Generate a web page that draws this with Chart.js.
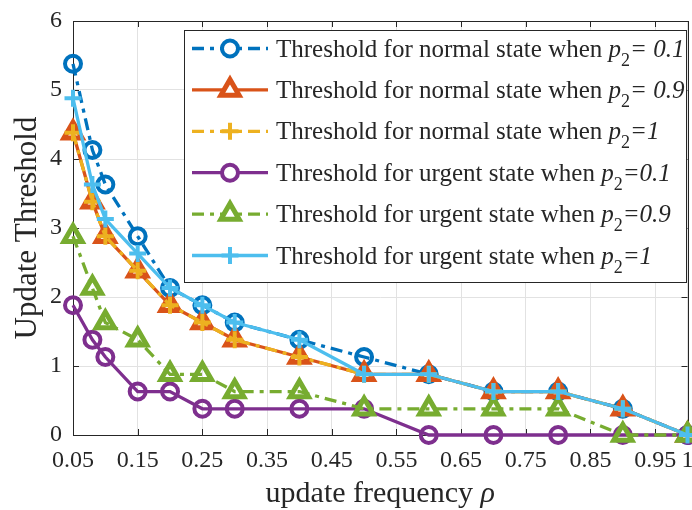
<!DOCTYPE html>
<html>
<head>
<meta charset="utf-8">
<script src="https://cdn.jsdelivr.net/npm/chart.js@4.4.1/dist/chart.umd.min.js"></script>
<style>
  html, body { margin: 0; padding: 0; background: #fff; }
  #caixa { width: 692px; height: 510px; }
</style>
</head>
<body>
<div id="caixa"><canvas id="grafico"></canvas></div>
<script>
// valores
const rho = [0.05, 0.08, 0.1, 0.15, 0.2, 0.25, 0.3, 0.4, 0.5, 0.6, 0.7, 0.8, 0.9, 1];
const normal01 = [5.38, 4.13, 3.63, 2.88, 2.13, 1.88, 1.63, 1.38, 1.13, 0.88, 0.63, 0.63, 0.38, 0];
const normal09 = [4.38, 3.38, 2.88, 2.38, 1.88, 1.63, 1.38, 1.13, 0.88, 0.88, 0.63, 0.63, 0.38, 0];
const normal1  = [4.38, 3.38, 2.88, 2.38, 1.88, 1.63, 1.38, 1.13, 0.88, 0.88, 0.63, 0.63, 0.38, 0];
const urgente01 = [1.88, 1.38, 1.13, 0.63, 0.63, 0.38, 0.38, 0.38, 0.38, 0, 0, 0, 0, 0];
const urgente09 = [2.88, 2.13, 1.63, 1.38, 0.88, 0.88, 0.63, 0.63, 0.38, 0.38, 0.38, 0.38, 0, 0];
const urgente1  = [4.88, 3.63, 3.13, 2.63, 2.13, 1.88, 1.63, 1.38, 0.88, 0.88, 0.63, 0.63, 0.38, 0];
const xTicks = [0.05, 0.15, 0.25, 0.35, 0.45, 0.55, 0.65, 0.75, 0.85, 0.95, 1];
const yTicks = [0, 1, 2, 3, 4, 5, 6];
const legendas = [
  ['Threshold for normal state when ', '= 0.1'],
  ['Threshold for normal state when ', '= 0.9'],
  ['Threshold for normal state when ', '=1'],
  ['Threshold for urgent state when ', '=0.1'],
  ['Threshold for urgent state when ', '=0.9'],
  ['Threshold for urgent state when ', '=1']
];

const FONTE = "'Liberation Serif', 'Times New Roman', serif";
const TEXTO = '#262626';
const TRACO = [12, 6, 4, 6];

function serie(valores) {
  return valores.map((v, i) => ({ x: rho[i], y: v }));
}

function criarSerie(label, valores, cor, estilo, tracejado, raio, borda, ordem) {
  return {
    label: label,
    data: serie(valores),
    borderColor: cor,
    backgroundColor: 'rgba(255,255,255,0)',
    borderWidth: 3.3,
    borderDash: tracejado ? TRACO : [],
    pointStyle: estilo,
    pointRadius: raio,
    pointBorderWidth: borda,
    pointBorderColor: cor,
    pointBackgroundColor: 'rgba(255,255,255,0)',
    tension: 0,
    clip: 14,
    order: ordem
  };
}

const series = [
  criarSerie('normal 0.1', normal01, '#0072BD', 'circle', true, 8, 4, 5),
  criarSerie('normal 0.9', normal09, '#D95319', 'triangle', false, 10.5, 5, 4),
  criarSerie('normal 1', normal1, '#EDB120', 'cross', true, 8.5, 4, 3),
  criarSerie('urgente 0.1', urgente01, '#7E2F8E', 'circle', false, 8, 4, 2),
  criarSerie('urgente 0.9', urgente09, '#77AC30', 'triangle', true, 10.5, 5, 1),
  criarSerie('urgente 1', urgente1, '#4DBEEE', 'cross', false, 8.5, 4, 0)
];

// Caixa do eixo com marcas para dentro e titulo do eixo x.
const moldura = {
  id: 'moldura',
  beforeDatasetsDraw(chart) {
    const { ctx, chartArea: a, scales } = chart;
    ctx.save();
    ctx.strokeStyle = TEXTO;
    ctx.lineWidth = 1;
    ctx.strokeRect(Math.round(a.left) + 0.5, Math.round(a.top) + 0.5,
      Math.round(a.right - a.left), Math.round(a.bottom - a.top));
    ctx.beginPath();
    xTicks.forEach(t => {
      const px = Math.round(scales.x.getPixelForValue(t)) + 0.5;
      ctx.moveTo(px, a.bottom); ctx.lineTo(px, a.bottom - 6);
      ctx.moveTo(px, a.top); ctx.lineTo(px, a.top + 6);
    });
    yTicks.forEach(t => {
      const py = Math.round(scales.y.getPixelForValue(t)) + 0.5;
      ctx.moveTo(a.left, py); ctx.lineTo(a.left + 6, py);
      ctx.moveTo(a.right, py); ctx.lineTo(a.right - 6, py);
    });
    ctx.stroke();
    // titulo do eixo x com rho em italico
    ctx.fillStyle = TEXTO;
    ctx.textBaseline = 'alphabetic';
    ctx.font = '30px ' + FONTE;
    const parte1 = 'update frequency ';
    const w1 = ctx.measureText(parte1).width;
    ctx.font = 'italic 30px ' + FONTE;
    const w2 = ctx.measureText('ρ').width;
    let x = (a.left + a.right) / 2 - (w1 + w2) / 2;
    ctx.font = '30px ' + FONTE;
    ctx.fillText(parte1, x, 502);
    ctx.font = 'italic 30px ' + FONTE;
    ctx.fillText('ρ', x + w1, 502);
    ctx.restore();
  }
};

// Legenda no canto superior direito, com p subscrito 2.
const legenda = {
  id: 'legenda',
  afterDatasetsDraw(chart) {
    const ctx = chart.ctx;
    const esq = 184, topo = 30, dir = 686, base = 282;
    const passo = 41.4, y0 = 48.5;
    ctx.save();
    ctx.fillStyle = '#fff';
    ctx.fillRect(esq, topo, dir - esq, base - topo);
    ctx.strokeStyle = TEXTO;
    ctx.lineWidth = 1;
    ctx.strokeRect(esq + 0.5, topo + 0.5, dir - esq, base - topo);
    series.forEach((s, i) => {
      const y = y0 + i * passo;
      ctx.strokeStyle = s.borderColor;
      ctx.lineWidth = s.borderWidth;
      ctx.setLineDash(s.borderDash);
      ctx.beginPath();
      ctx.moveTo(192, y); ctx.lineTo(268, y);
      ctx.stroke();
      ctx.setLineDash([]);
      ctx.fillStyle = '#fff';
      ctx.lineWidth = s.pointBorderWidth;
      Chart.helpers.drawPoint(ctx, {
        pointStyle: s.pointStyle, radius: s.pointRadius,
        borderWidth: s.pointBorderWidth, rotation: 0
      }, 230, y);
      // texto
      ctx.fillStyle = TEXTO;
      ctx.textBaseline = 'alphabetic';
      let x = 276;
      const linhaBase = y + 8;
      ctx.font = '25px ' + FONTE;
      ctx.fillText(legendas[i][0], x, linhaBase);
      x += ctx.measureText(legendas[i][0]).width;
      ctx.font = 'italic 25px ' + FONTE;
      ctx.fillText('p', x, linhaBase);
      x += ctx.measureText('p').width;
      ctx.font = '18px ' + FONTE;
      ctx.fillText('2', x, linhaBase + 9);
      x += ctx.measureText('2').width;
      ctx.font = 'italic 25px ' + FONTE;
      ctx.fillText(legendas[i][1], x, linhaBase);
    });
    ctx.restore();
  }
};

new Chart(document.getElementById('grafico'), {
  type: 'line',
  data: { datasets: series },
  options: {
    responsive: true,
    maintainAspectRatio: false,
    animation: false,
    layout: { autoPadding: false, padding: { top: 21, right: 4.5, left: 0, bottom: 0 } },
    plugins: { legend: { display: false }, tooltip: { enabled: false } },
    scales: {
      x: {
        type: 'linear',
        min: 0.05,
        max: 1,
        afterBuildTicks: escala => { escala.ticks = xTicks.map(v => ({ value: v })); },
        afterFit: escala => {
          escala.height = 75;
          escala.paddingLeft = 0;
          escala.paddingRight = 0;
        },
        grid: { color: '#e2e2e2', drawTicks: false },
        border: { display: false },
        ticks: {
          autoSkip: false,
          maxRotation: 0,
          padding: 11,
          color: TEXTO,
          font: { family: FONTE, size: 24 },
          callback: v => String(v)
        }
      },
      y: {
        min: 0,
        max: 6,
        afterBuildTicks: escala => { escala.ticks = yTicks.map(v => ({ value: v })); },
        afterFit: escala => {
          escala.width = 73;
          escala.paddingTop = 0;
          escala.paddingBottom = 0;
        },
        grid: { color: '#e2e2e2', drawTicks: false },
        border: { display: false },
        ticks: {
          padding: 11,
          color: TEXTO,
          font: { family: FONTE, size: 24 }
        },
        title: {
          display: true,
          text: 'Update Threshold',
          color: TEXTO,
          font: { family: FONTE, size: 31 },
          padding: { top: 9, bottom: 0 }
        }
      }
    }
  },
  plugins: [moldura, legenda]
});
</script>
</body>
</html>
